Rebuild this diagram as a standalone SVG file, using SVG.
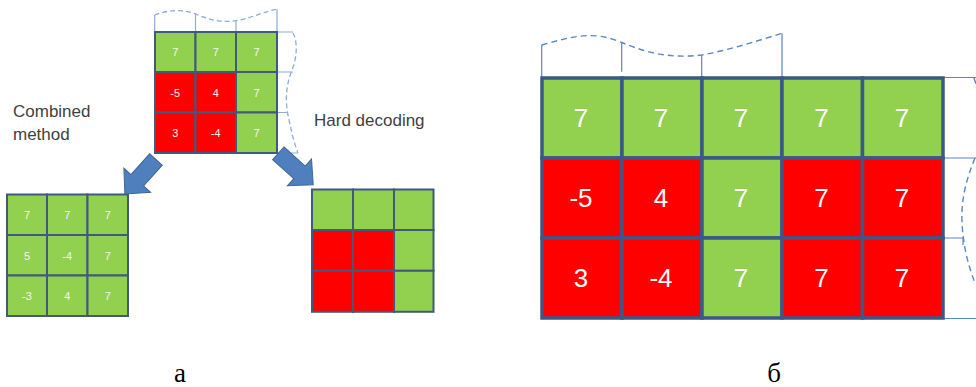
<svg xmlns="http://www.w3.org/2000/svg" width="976" height="387" viewBox="0 0 976 387">
  <style>
    .g { fill: #92D050; }
    .r { fill: #FF0000; }
    .cell { stroke: #41597D; stroke-width: 2; }
    .big { stroke: #3B5886; stroke-width: 3.5; }
    .v { fill: #F4F4F4; font-family: "Liberation Sans", Arial, sans-serif; font-size: 11px; text-anchor: middle; }
    .vb { fill: #FFFFFF; font-family: "Liberation Sans", Arial, sans-serif; font-size: 26px; text-anchor: middle; }
    .lbl { fill: #3F3F3F; font-family: "Liberation Sans", Arial, sans-serif; font-size: 17px; }
    .cap { fill: #000000; font-family: "Liberation Serif", "Times New Roman", serif; font-size: 27px; text-anchor: middle; }
    .guide { fill: none; stroke: #8FABD6; stroke-width: 1.2; }
    .guideb { fill: none; stroke: #5A86C2; stroke-width: 1.2; }
    .dash { fill: none; stroke: #8FABD6; stroke-width: 1.3; stroke-dasharray: 5 3; }
    .dashb { fill: none; stroke: #5A86C2; stroke-width: 1.4; stroke-dasharray: 6 4; }
    .arrow { fill: #4F7FBC; stroke: #3F6698; stroke-width: 1; }
  </style>

  <!-- Source block (a): 3x3 received values with continuation guides -->
  <g id="source-block">
    <path class="guide" d="M154.7 32 V15 M195.5 32 V13.5 M236 32 V20.7 M277 32 V9.3"/>
    <path class="dash" d="M154.7 15 C165 11 180 8 195.5 14 C210 20 222 23 236 20.7 C252 18 265 11 277 9.3"/>
    <path class="guide" d="M277 32 H293 M277 72 H293 M277 112.5 H287 M277 153 H298"/>
    <path class="dash" d="M293 33 C297 40 298 55 292 70 C286 85 285 100 288 115 C291 130 294 143 298 153"/>
    <rect class="g cell" x="155" y="32" width="40.5" height="40"/>
    <rect class="g cell" x="195.5" y="32" width="40.5" height="40"/>
    <rect class="g cell" x="236" y="32" width="41" height="40"/>
    <rect class="r cell" x="155" y="72" width="40.5" height="40.5"/>
    <rect class="r cell" x="195.5" y="72" width="40.5" height="40.5"/>
    <rect class="g cell" x="236" y="72" width="41" height="40.5"/>
    <rect class="r cell" x="155" y="112.5" width="40.5" height="40.5"/>
    <rect class="r cell" x="195.5" y="112.5" width="40.5" height="40.5"/>
    <rect class="g cell" x="236" y="112.5" width="41" height="40.5"/>
    <text class="v" x="175.2" y="56">7</text>
    <text class="v" x="215.7" y="56">7</text>
    <text class="v" x="256.5" y="56">7</text>
    <text class="v" x="175.2" y="96.5">-5</text>
    <text class="v" x="215.7" y="96.5">4</text>
    <text class="v" x="256.5" y="96.5">7</text>
    <text class="v" x="175.2" y="137">3</text>
    <text class="v" x="215.7" y="137">-4</text>
    <text class="v" x="256.5" y="137">7</text>
  </g>

  <!-- Combined method result -->
  <g id="combined-method">
    <text class="lbl" x="13" y="117">Combined</text>
    <text class="lbl" x="13" y="139.5">method</text>
    <rect class="g cell" x="7" y="194.5" width="40" height="40.5"/>
    <rect class="g cell" x="47" y="194.5" width="40.5" height="40.5"/>
    <rect class="g cell" x="87.5" y="194.5" width="40.5" height="40.5"/>
    <rect class="g cell" x="7" y="235" width="40" height="40.5"/>
    <rect class="g cell" x="47" y="235" width="40.5" height="40.5"/>
    <rect class="g cell" x="87.5" y="235" width="40.5" height="40.5"/>
    <rect class="g cell" x="7" y="275.5" width="40" height="40.5"/>
    <rect class="g cell" x="47" y="275.5" width="40.5" height="40.5"/>
    <rect class="g cell" x="87.5" y="275.5" width="40.5" height="40.5"/>
    <text class="v" x="27" y="219">7</text>
    <text class="v" x="67.2" y="219">7</text>
    <text class="v" x="107.7" y="219">7</text>
    <text class="v" x="27" y="259.5">5</text>
    <text class="v" x="67.2" y="259.5">-4</text>
    <text class="v" x="107.7" y="259.5">7</text>
    <text class="v" x="27" y="300">-3</text>
    <text class="v" x="67.2" y="300">4</text>
    <text class="v" x="107.7" y="300">7</text>
  </g>

  <!-- Hard decoding result -->
  <g id="hard-decoding">
    <text class="lbl" x="314" y="126">Hard decoding</text>
    <rect class="g cell" x="312" y="189.5" width="41" height="40.5"/>
    <rect class="g cell" x="353" y="189.5" width="41" height="40.5"/>
    <rect class="g cell" x="394" y="189.5" width="39.5" height="40.5"/>
    <rect class="r cell" x="312" y="230" width="41" height="40.8"/>
    <rect class="r cell" x="353" y="230" width="41" height="40.8"/>
    <rect class="g cell" x="394" y="230" width="39.5" height="40.8"/>
    <rect class="r cell" x="312" y="270.8" width="41" height="41"/>
    <rect class="r cell" x="353" y="270.8" width="41" height="41"/>
    <rect class="g cell" x="394" y="270.8" width="39.5" height="41"/>
  </g>

  <!-- Block arrows from the source block to both results -->
  <g id="connectors">
    <polygon class="arrow" transform="translate(156 159.5) rotate(132)" points="0,-8.5 28,-8.5 28,-18 46.5,0 28,18 28,8.5 0,8.5"/>
    <polygon class="arrow" transform="translate(278.3 153.3) rotate(42)" points="0,-8.5 28.5,-8.5 28.5,-18 47,0 28.5,18 28.5,8.5 0,8.5"/>
  </g>

  <!-- Block (б): 3x5 values with continuation guides -->
  <g id="wide-block">
    <path class="guideb" d="M541.7 78 V45 M621.7 71.7 V42.5 M701.7 86.7 V55 M782 78 V33.3"/>
    <path class="dashb" d="M541.7 45 C560 40 578 34 598 36 C608 37 615 40 621.7 42.5 C645 52 668 59 701.7 55 C730 50 760 40 782 33.3"/>
    <path class="guideb" d="M943 77.5 H976 M943 158 H976 M943 238 H963 V245 M943 318.5 H976"/>
    <path class="dashb" d="M974 78 L976 84 M975 158 C966 180 961 200 962 222 C963 245 968 265 975 283"/>
    <rect class="g big" x="542" y="78" width="80" height="80"/>
    <rect class="g big" x="622" y="78" width="80" height="80"/>
    <rect class="g big" x="702" y="78" width="80" height="80"/>
    <rect class="g big" x="782" y="78" width="80.5" height="80"/>
    <rect class="g big" x="862.5" y="78" width="80.5" height="80"/>
    <rect class="r big" x="542" y="158" width="80" height="80"/>
    <rect class="r big" x="622" y="158" width="80" height="80"/>
    <rect class="g big" x="702" y="158" width="80" height="80"/>
    <rect class="r big" x="782" y="158" width="80.5" height="80"/>
    <rect class="r big" x="862.5" y="158" width="80.5" height="80"/>
    <rect class="r big" x="542" y="238" width="80" height="80"/>
    <rect class="r big" x="622" y="238" width="80" height="80"/>
    <rect class="g big" x="702" y="238" width="80" height="80"/>
    <rect class="r big" x="782" y="238" width="80.5" height="80"/>
    <rect class="r big" x="862.5" y="238" width="80.5" height="80"/>
    <text class="vb" x="581" y="126.5">7</text>
    <text class="vb" x="661" y="126.5">7</text>
    <text class="vb" x="741" y="126.5">7</text>
    <text class="vb" x="821.5" y="126.5">7</text>
    <text class="vb" x="902" y="126.5">7</text>
    <text class="vb" x="581" y="207">-5</text>
    <text class="vb" x="661" y="207">4</text>
    <text class="vb" x="741" y="207">7</text>
    <text class="vb" x="821.5" y="207">7</text>
    <text class="vb" x="902" y="207">7</text>
    <text class="vb" x="581" y="287">3</text>
    <text class="vb" x="661" y="287">-4</text>
    <text class="vb" x="741" y="287">7</text>
    <text class="vb" x="821.5" y="287">7</text>
    <text class="vb" x="902" y="287">7</text>
  </g>

  <!-- Panel captions -->
  <text class="cap" x="180" y="382">а</text>
  <text class="cap" x="774" y="382">б</text>
</svg>
